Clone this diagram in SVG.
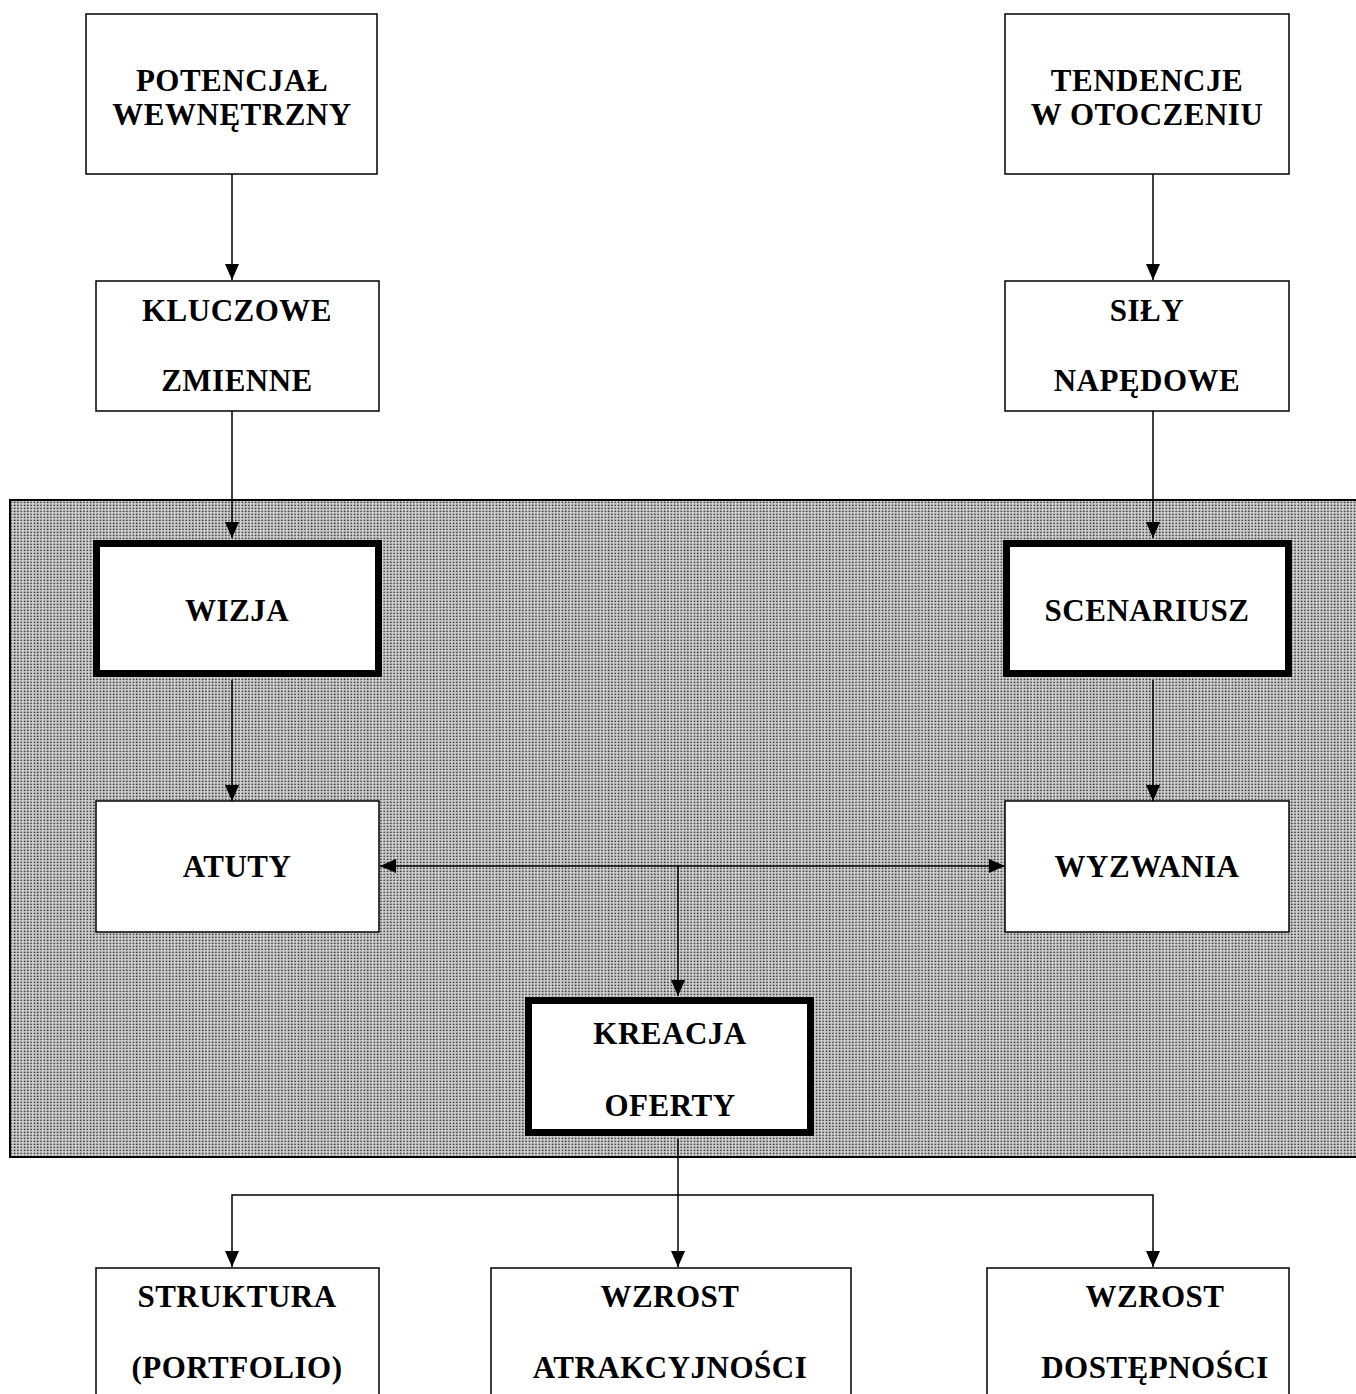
<svg xmlns="http://www.w3.org/2000/svg" width="1356" height="1394" viewBox="0 0 1356 1394">
<style>
.box{fill:#fff;stroke:#000;stroke-width:1.5}
.thick{fill:#fff;stroke:#000;stroke-width:7}
.t{font-family:"Liberation Serif","Times New Roman",serif;font-weight:bold;font-size:31px;text-anchor:middle;fill:#000;letter-spacing:0.5px}
.c{fill:none;stroke:#000;stroke-width:1.5}
</style>
<defs>
<pattern id="dots" width="3.3" height="3" patternUnits="userSpaceOnUse">
<rect width="3.3" height="3" fill="#d4d4d4"/>
<rect x="0.6" y="0.6" width="1.6" height="1.6" fill="#333"/>
</pattern>
<marker id="ah" viewBox="0 0 16 14" refX="16" refY="7" markerWidth="16" markerHeight="14" markerUnits="userSpaceOnUse" orient="auto-start-reverse">
<path d="M0,0 L16,7 L0,14 z" fill="#000"/>
</marker>
</defs>
<rect width="1356" height="1394" fill="#fff"/>
<g id="background">
<rect x="10" y="500" width="1360" height="657" fill="url(#dots)" stroke="#000" stroke-width="2"/>
</g>
<g id="connectors">
<path class="c" d="M232,174 V280" marker-end="url(#ah)"/>
<path class="c" d="M1153,174 V280" marker-end="url(#ah)"/>
<path class="c" d="M232,411 V538" marker-end="url(#ah)"/>
<path class="c" d="M1153,411 V538" marker-end="url(#ah)"/>
<path class="c" d="M232,680 V801" marker-end="url(#ah)"/>
<path class="c" d="M1153,680 V801" marker-end="url(#ah)"/>
<path class="c" d="M380,866 H1005" marker-start="url(#ah)" marker-end="url(#ah)"/>
<path class="c" d="M678,866 V996" marker-end="url(#ah)"/>
<path class="c" d="M678,1139 V1267" marker-end="url(#ah)"/>
<path class="c" d="M232,1267 V1195 H1153 V1267" marker-start="url(#ah)" marker-end="url(#ah)"/>
</g>
<g id="potencjal">
<rect class="box" x="86" y="14" width="291" height="160"/>
<text class="t" x="232" y="91">POTENCJAŁ</text>
<text class="t" x="232" y="125">WEWNĘTRZNY</text>
</g>
<g id="tendencje">
<rect class="box" x="1005" y="14" width="284" height="160"/>
<text class="t" x="1147" y="91">TENDENCJE</text>
<text class="t" x="1147" y="125">W OTOCZENIU</text>
</g>
<g id="kluczowe">
<rect class="box" x="96" y="281" width="283" height="130"/>
<text class="t" x="237" y="321">KLUCZOWE</text>
<text class="t" x="237" y="391">ZMIENNE</text>
</g>
<g id="sily">
<rect class="box" x="1005" y="281" width="284" height="130"/>
<text class="t" x="1147" y="321">SIŁY</text>
<text class="t" x="1147" y="391">NAPĘDOWE</text>
</g>
<g id="wizja">
<rect class="thick" x="96.5" y="543.5" width="282" height="130"/>
<text class="t" x="237" y="621">WIZJA</text>
</g>
<g id="scenariusz">
<rect class="thick" x="1006.5" y="543.5" width="282" height="130"/>
<text class="t" x="1147" y="621">SCENARIUSZ</text>
</g>
<g id="atuty">
<rect class="box" x="96" y="801" width="283" height="131"/>
<text class="t" x="237" y="877">ATUTY</text>
</g>
<g id="wyzwania">
<rect class="box" x="1005" y="801" width="284" height="131"/>
<text class="t" x="1147" y="877">WYZWANIA</text>
</g>
<g id="kreacja">
<rect class="thick" x="528.5" y="1000.5" width="282" height="132"/>
<text class="t" x="670" y="1044">KREACJA</text>
<text class="t" x="670" y="1116">OFERTY</text>
</g>
<g id="struktura">
<rect class="box" x="96" y="1268" width="283" height="140"/>
<text class="t" x="237" y="1307">STRUKTURA</text>
<text class="t" x="237" y="1378">(PORTFOLIO)</text>
</g>
<g id="atrakcyjnosc">
<rect class="box" x="491" y="1268" width="360" height="140"/>
<text class="t" x="670" y="1307">WZROST</text>
<text class="t" x="670" y="1378">ATRAKCYJNOŚCI</text>
</g>
<g id="dostepnosc">
<rect class="box" x="987" y="1268" width="302" height="140"/>
<text class="t" x="1155" y="1307">WZROST</text>
<text class="t" x="1155" y="1378">DOSTĘPNOŚCI</text>
</g>
</svg>
